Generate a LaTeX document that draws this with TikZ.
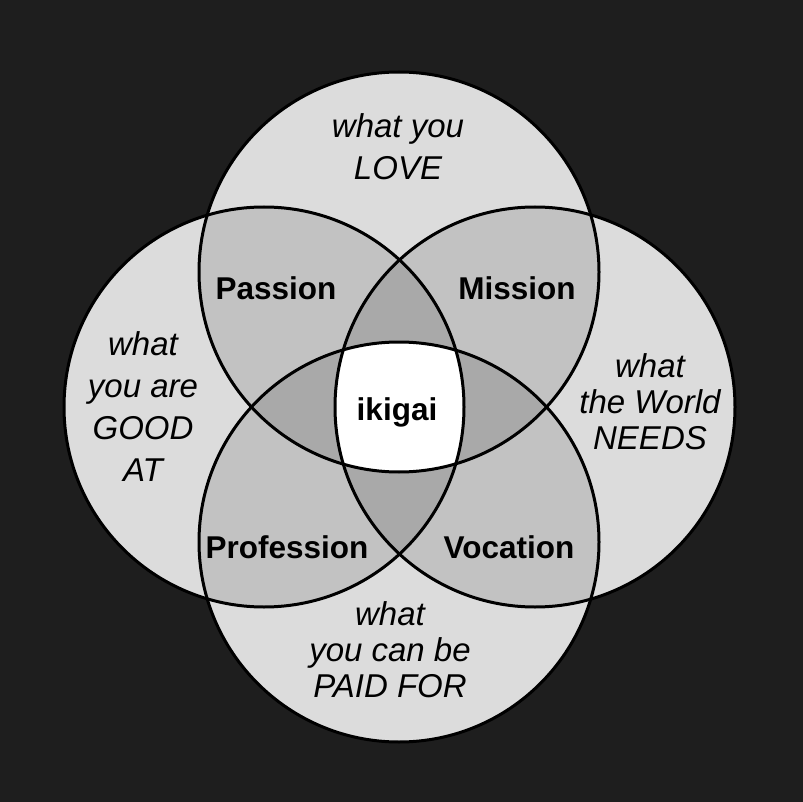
\documentclass[tikz,border=0pt]{standalone}
\usepackage{fontspec}
\setmainfont{Liberation Sans}
\usepackage{tikz}
\usetikzlibrary{positioning}
\definecolor{bgdark}{HTML}{1E1E1E}
\definecolor{onezone}{HTML}{DCDCDC}
\definecolor{twozone}{HTML}{C2C2C2}
\definecolor{threezone}{HTML}{A9A9A9}
\tikzstyle{ring}=[draw=black,line width=3pt]
\tikzstyle{area label}=[anchor=center,align=center,inner sep=0pt,font=\itshape\fontsize{33}{42}\selectfont]
\tikzstyle{tight label}=[area label,font=\itshape\fontsize{33}{36}\selectfont]
\tikzstyle{zone label}=[anchor=base,inner sep=0pt,font=\bfseries\fontsize{31.5}{36}\selectfont]
\newcommand{\arealabel}[3][]{
  \node [area label, #1] (#2) {#3}
}
\newcommand{\zonelabel}[3][]{
  \node [zone label, #1] (#2) {#3}
}
\newcommand{\ringpath}[1]{(#1) circle (200)}

\begin{document}
\begin{tikzpicture}[x=1pt,y=-1pt]
        \fill[bgdark] (0,0) rectangle (803,802);
        \useasboundingbox (0,0) rectangle (803,802);
        \coordinate (love) at (399,272);
        \coordinate (good) at (264,407);
        \coordinate (need) at (535,407);
        \coordinate (paid) at (399,542);

        % one circle
        \foreach \c in {love,good,need,paid}
            \fill[onezone] \ringpath{\c};
        % two circles
        \foreach \a/\b in {love/good,love/need,paid/good,paid/need,love/paid,good/need}{
            \begin{scope}
                \clip \ringpath{\a};
                \fill[twozone] \ringpath{\b};
            \end{scope}
        }
        % three circles
        \foreach \a/\b/\c in {love/good/need,love/good/paid,love/need/paid,good/need/paid}{
            \begin{scope}
                \clip \ringpath{\a};
                \clip \ringpath{\b};
                \fill[threezone] \ringpath{\c};
            \end{scope}
        }
        % all four
        \begin{scope}
            \clip \ringpath{love};
            \clip \ringpath{good};
            \clip \ringpath{need};
            \fill[white] \ringpath{paid};
        \end{scope}

        \foreach \c in {love,good,need,paid}
            \draw[ring] \ringpath{\c};

        \arealabel[at={(398,147)}]{lovetext}{what you\\LOVE};
        \arealabel[at={(143,406.5)}]{goodtext}{what\\you are\\GOOD\\AT};
        \arealabel[tight label, at={(650,401.5)}]{needtext}{what\\the World\\NEEDS};
        \arealabel[tight label, at={(390,650)}]{paidtext}{what\\you can be\\PAID FOR};

        \zonelabel[at={(276,300)}]{passion}{Passion};
        \zonelabel[at={(517,300)}]{mission}{Mission};
        \zonelabel[at={(287,558)}]{profession}{Profession};
        \zonelabel[at={(509,558)}]{vocation}{Vocation};
        \zonelabel[at={(397,420)}]{ikigai}{ikigai};
\end{tikzpicture}
\end{document}
